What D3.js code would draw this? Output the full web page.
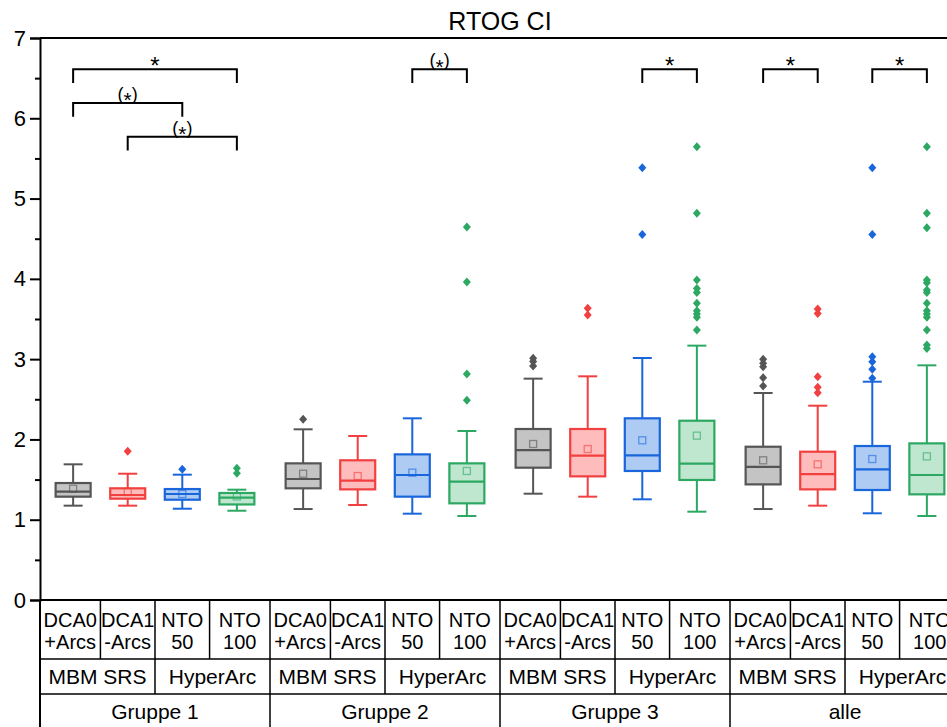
<!DOCTYPE html>
<html>
<head>
<meta charset="utf-8">
<script src="https://cdn.jsdelivr.net/npm/d3@7"></script>
<style>
  html, body { margin: 0; padding: 0; background: #fff; }
  svg { display: block; font-family: "Liberation Sans", Arial, sans-serif; }
</style>
</head>
<body>
<svg id="chart" width="947" height="727"></svg>
<script>
// --- data ---
const groups = ["Gruppe 1", "Gruppe 2", "Gruppe 3", "alle"];
const systems = ["MBM SRS", "HyperArc"];
const methods = [["DCA0", "+Arcs"], ["DCA1", "-Arcs"], ["NTO", "50"], ["NTO", "100"]];
const yTicks = [0, 1, 2, 3, 4, 5, 6, 7];

const whiskerLow  = [1.175, 1.175, 1.137, 1.112, 1.133, 1.183, 1.075, 1.046, 1.324, 1.287, 1.254, 1.10, 1.133, 1.175, 1.08, 1.046];
const q1          = [1.287, 1.262, 1.249, 1.19, 1.391, 1.378, 1.287, 1.204, 1.648, 1.54, 1.607, 1.495, 1.44, 1.378, 1.37, 1.316];
const median      = [1.349, 1.308, 1.32, 1.274, 1.507, 1.486, 1.557, 1.474, 1.868, 1.798, 1.802, 1.698, 1.657, 1.569, 1.627, 1.557];
const q3          = [1.457, 1.391, 1.382, 1.333, 1.702, 1.74, 1.814, 1.702, 2.13, 2.13, 2.263, 2.233, 1.909, 1.847, 1.918, 1.951];
const whiskerHigh = [1.69, 1.573, 1.561, 1.374, 2.126, 2.043, 2.263, 2.105, 2.757, 2.786, 3.014, 3.168, 2.578, 2.42, 2.719, 2.923];
const means       = [1.386, 1.345, 1.32, 1.29, 1.573, 1.544, 1.586, 1.607, 1.943, 1.88, 1.989, 2.047, 1.74, 1.69, 1.756, 1.789];
const outliers = [
  [], [1.852], [1.628], [1.64, 1.578],
  [2.25], [], [], [2.487, 2.815, 3.96, 4.646],
  [3.01, 2.97, 2.914], [3.633, 3.55], [5.385, 4.554], [5.646, 4.816, 3.986, 3.88, 3.83, 3.695, 3.603, 3.562, 3.521, 3.363],
  [2.998, 2.948, 2.906, 2.769, 2.665], [3.624, 3.57, 2.78, 2.649, 2.582], [5.385, 4.554, 3.03, 2.968, 2.873, 2.761],
  [5.646, 4.816, 4.637, 3.986, 3.952, 3.861, 3.83, 3.695, 3.603, 3.562, 3.521, 3.363, 3.176, 3.134]
];
// significance brackets: box index from/to, level, label
const bracketFrom  = [0, 0, 1, 6, 10, 12, 14];
const bracketTo    = [3, 2, 3, 7, 11, 13, 15];
const bracketLevel = [6.61, 6.19, 5.77, 6.61, 6.61, 6.61, 6.61];
const bracketLabel = ["*", "(*)", "(*)", "(*)", "*", "*", "*"];

// --- styles ---
const strokeCol = ["#555555", "#f23f3f", "#1966dc", "#2ca862"];
const fillCol   = ["#c4c4c4", "#ffbcbc", "#aecbf4", "#bfe6cf"];
const groupGap = 0.214;

const svg = d3.select("#chart");
const padL = 40, padT = 38, axisY = 600;

const pos = i => Math.floor(i / 4) * (4 + groupGap) + (i % 4);
const half = 0.5 + groupGap / 2;
const x = d3.scaleLinear().domain([-half, pos(15) + half]).range([padL, 960]);
const y = d3.scaleLinear().domain([0, 7]).range([axisY, padT]);

// title
svg.append("text").attr("x", 500).attr("y", 30).attr("text-anchor", "middle")
  .attr("font-size", 25).text("RTOG CI");

// frame lines
svg.append("line").attr("x1", padL).attr("x2", 947).attr("y1", padT).attr("y2", padT)
  .attr("stroke", "#000").attr("stroke-width", 2);
svg.append("line").attr("x1", padL).attr("x2", 947).attr("y1", axisY).attr("y2", axisY)
  .attr("stroke", "#000").attr("stroke-width", 2);

// y axis
const yAxis = svg.append("g").attr("transform", `translate(${padL},0)`)
  .call(d3.axisLeft(y).tickValues(yTicks).tickSize(10).tickPadding(4).tickFormat(d3.format("d")));
const yMinor = svg.append("g").attr("transform", `translate(${padL},0)`)
  .call(d3.axisLeft(y).tickValues(d3.range(0.5, 7, 1)).tickSize(5).tickFormat(""));
[yAxis, yMinor].forEach(g => {
  g.select(".domain").attr("stroke-width", 2);
  g.selectAll(".tick line").attr("stroke-width", 2);
});
yMinor.select(".domain").remove();
yAxis.selectAll(".tick text").attr("font-size", 22).attr("fill", "#000")
  .attr("font-family", '"Liberation Sans", Arial, sans-serif');

// boxes
const idx = d3.range(16);
const bw = 35, cap = 19;
const boxes = svg.append("g").selectAll("g").data(idx).join("g")
  .attr("transform", i => `translate(${x(pos(i))},0)`);

boxes.append("line").attr("y1", i => y(whiskerLow[i])).attr("y2", i => y(whiskerHigh[i]))
  .attr("stroke", i => strokeCol[i % 4]).attr("stroke-width", 2);
boxes.append("line").attr("x1", -cap / 2).attr("x2", cap / 2)
  .attr("y1", i => y(whiskerLow[i])).attr("y2", i => y(whiskerLow[i]))
  .attr("stroke", i => strokeCol[i % 4]).attr("stroke-width", 2);
boxes.append("line").attr("x1", -cap / 2).attr("x2", cap / 2)
  .attr("y1", i => y(whiskerHigh[i])).attr("y2", i => y(whiskerHigh[i]))
  .attr("stroke", i => strokeCol[i % 4]).attr("stroke-width", 2);
boxes.append("rect").attr("x", -bw / 2).attr("width", bw)
  .attr("y", i => y(q3[i])).attr("height", i => y(q1[i]) - y(q3[i]))
  .attr("fill", i => fillCol[i % 4]).attr("stroke", i => strokeCol[i % 4]).attr("stroke-width", 2.2);
boxes.append("line").attr("x1", -bw / 2).attr("x2", bw / 2)
  .attr("y1", i => y(median[i])).attr("y2", i => y(median[i]))
  .attr("stroke", i => strokeCol[i % 4]).attr("stroke-width", 2.2);
boxes.append("rect").attr("x", -3.5).attr("width", 7).attr("height", 7)
  .attr("y", i => y(means[i]) - 3.5)
  .attr("fill", "none").attr("stroke", i => strokeCol[i % 4]).attr("stroke-opacity", 0.6).attr("stroke-width", 1.3);
boxes.each(function (i) {
  d3.select(this).selectAll("path").data(outliers[i]).join("path")
    .attr("d", "M0,-4.5L4,0L0,4.5L-4,0Z")
    .attr("transform", v => `translate(0,${y(v)})`)
    .attr("fill", strokeCol[i % 4]);
});

// brackets
const legLen = 0.17;
const br = svg.append("g").selectAll("g").data(d3.range(bracketFrom.length)).join("g");
br.append("path")
  .attr("d", k => {
    const x1 = x(pos(bracketFrom[k])), x2 = x(pos(bracketTo[k]));
    const yl = y(bracketLevel[k]), yb = y(bracketLevel[k] - legLen);
    return `M${x1},${yb}V${yl}H${x2}V${yb}`;
  })
  .attr("fill", "none").attr("stroke", "#000").attr("stroke-width", 2);
br.each(function (k) {
  const cx = (x(pos(bracketFrom[k])) + x(pos(bracketTo[k]))) / 2;
  const yl = y(bracketLevel[k]);
  const t = d3.select(this).append("text").attr("x", cx).attr("text-anchor", "middle");
  if (bracketLabel[k] === "*") {
    t.attr("y", yl + 5).attr("font-size", 24).text("*");
  } else {
    t.attr("y", yl - 3).attr("font-size", 18);
    t.append("tspan").text("(");
    t.append("tspan").attr("dy", 7.4).attr("font-size", 21).text("*");
    t.append("tspan").attr("dy", -7.4).text(")");
  }
});

// category table under the axis
const rowY = [600, 659, 694, 727];
const tbl = svg.append("g").attr("stroke", "#000").attr("stroke-width", 1.5);
tbl.append("line").attr("x1", padL).attr("x2", 947).attr("y1", rowY[1]).attr("y2", rowY[1]);
tbl.append("line").attr("x1", padL).attr("x2", 947).attr("y1", rowY[2]).attr("y2", rowY[2]);
tbl.append("line").attr("x1", padL).attr("x2", padL).attr("y1", rowY[0]).attr("y2", rowY[3]).attr("stroke-width", 2);

const edge = i => x(pos(i)) - (i % 4 === 0 ? half : 0.5) * (x(1) - x(0));
const txt = svg.append("g").attr("font-size", 21).attr("text-anchor", "middle").attr("fill", "#000");
idx.forEach(i => {
  const xl = edge(i);
  const xr = i % 4 === 3 ? x(pos(i) + half) : edge(i + 1);
  const lvl = i % 4 === 0 ? 3 : (i % 2 === 0 ? 2 : 1);
  if (i > 0) tbl.append("line").attr("x1", xl).attr("x2", xl).attr("y1", rowY[0]).attr("y2", rowY[lvl]);
  const cx = (xl + xr) / 2;
  txt.append("text").attr("x", cx).attr("y", 627).attr("font-size", 20).text(methods[i % 4][0]);
  txt.append("text").attr("x", cx).attr("y", 649).attr("font-size", 20).text(methods[i % 4][1]);
});
d3.range(8).forEach(j => {
  const xl = edge(j * 2), xr = j % 2 === 1 ? x(pos(j * 2 + 1) + half) : edge(j * 2 + 2);
  txt.append("text").attr("x", (xl + xr) / 2).attr("y", 684).text(systems[j % 2]);
});
groups.forEach((g, j) => {
  const xl = edge(j * 4), xr = x(pos(j * 4 + 3) + half);
  txt.append("text").attr("x", (xl + xr) / 2).attr("y", 719).text(g);
});
</script>
</body>
</html>
